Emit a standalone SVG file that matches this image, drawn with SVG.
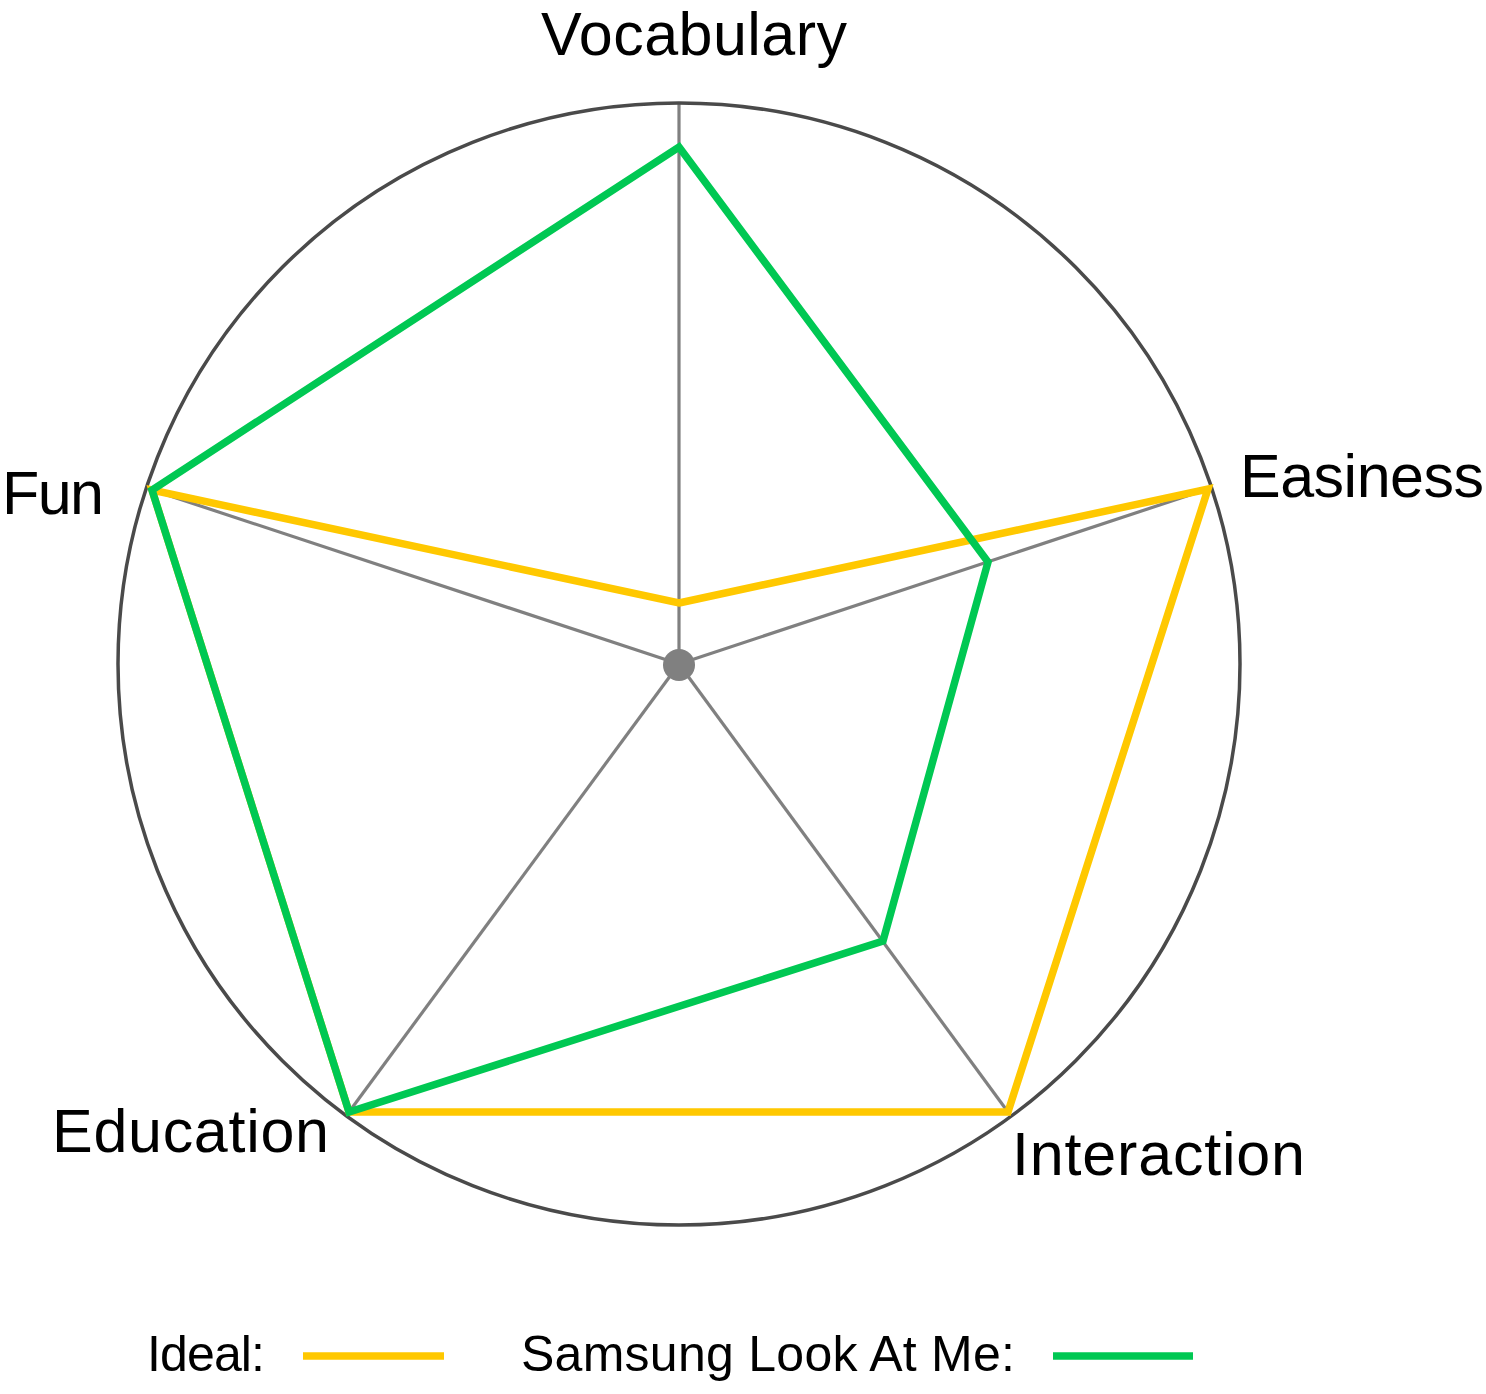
<svg xmlns="http://www.w3.org/2000/svg" width="1486" height="1394" viewBox="0 0 1486 1394">
<style>
.lbl{font-family:"Liberation Sans",Arial,sans-serif;font-size:61px;fill:#000}
.leg{font-family:"Liberation Sans",Arial,sans-serif;font-size:50px;fill:#000}
.spoke{stroke:#808080;stroke-width:3.2;fill:none}
.ring{stroke:#4a4a4a;stroke-width:3.5;fill:none}
.ideal{stroke:#ffc800;stroke-width:7.5;fill:none;stroke-linejoin:miter}
.slam{stroke:#00c853;stroke-width:7.5;fill:none;stroke-linejoin:miter}
</style>
<rect width="1486" height="1394" fill="#fff"/>
<g id="axes">
<line class="spoke" x1="679" y1="664" x2="679" y2="104"/>
<line class="spoke" x1="679" y1="664" x2="1208" y2="489"/>
<line class="spoke" x1="679" y1="664" x2="1008" y2="1112"/>
<line class="spoke" x1="679" y1="664" x2="349" y2="1112"/>
<line class="spoke" x1="679" y1="664" x2="152" y2="490"/>
<circle class="ring" cx="679" cy="664" r="561"/>
<circle cx="679" cy="665" r="16" fill="#808080"/>
</g>
<g id="series">
<polygon id="ideal" class="ideal" points="679,603 1208,489 1008,1112 349,1112 152,490"/>
<polygon id="samsung" class="slam" points="679,147 988,562 883,941 349,1112 152,490"/>
</g>
<g id="labels">
<text class="lbl" x="541" y="55" textLength="306">Vocabulary</text>
<text class="lbl" x="1240" y="497" textLength="244">Easiness</text>
<text class="lbl" x="1012" y="1175" textLength="293">Interaction</text>
<text class="lbl" x="52" y="1152" textLength="277">Education</text>
<text class="lbl" x="2" y="514" textLength="102">Fun</text>
</g>
<g id="legend">
<text class="leg" x="147" y="1371" textLength="118">Ideal:</text>
<line class="ideal" x1="303" y1="1356" x2="444" y2="1356"/>
<text class="leg" x="521" y="1371" textLength="494">Samsung Look At Me:</text>
<line class="slam" x1="1053" y1="1356" x2="1193" y2="1356"/>
</g>
</svg>
